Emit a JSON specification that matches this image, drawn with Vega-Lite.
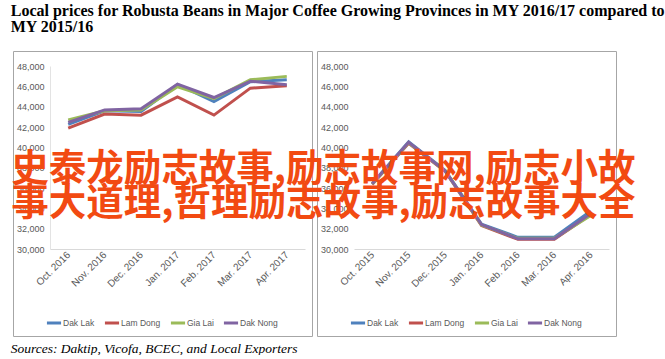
{
  "$schema": "https://vega.github.io/schema/vega-lite/v6.json",
  "background": "white",
  "padding": {"left": 10, "top": 2, "right": 0, "bottom": 0},
  "datasets": {
    "y2017": [
      {"month": "Oct. 2016", "province": "Dak Lak", "price": 42250},
      {"month": "Oct. 2016", "province": "Lam Dong", "price": 41880},
      {"month": "Oct. 2016", "province": "Gia Lai", "price": 42700},
      {"month": "Oct. 2016", "province": "Dak Nong", "price": 42450},
      {"month": "Nov. 2016", "province": "Dak Lak", "price": 43600},
      {"month": "Nov. 2016", "province": "Lam Dong", "price": 43280},
      {"month": "Nov. 2016", "province": "Gia Lai", "price": 43600},
      {"month": "Nov. 2016", "province": "Dak Nong", "price": 43680},
      {"month": "Dec. 2016", "province": "Dak Lak", "price": 43520},
      {"month": "Dec. 2016", "province": "Lam Dong", "price": 43160},
      {"month": "Dec. 2016", "province": "Gia Lai", "price": 43660},
      {"month": "Dec. 2016", "province": "Dak Nong", "price": 43800},
      {"month": "Jan. 2017", "province": "Dak Lak", "price": 46180},
      {"month": "Jan. 2017", "province": "Lam Dong", "price": 44950},
      {"month": "Jan. 2017", "province": "Gia Lai", "price": 45950},
      {"month": "Jan. 2017", "province": "Dak Nong", "price": 46220},
      {"month": "Feb. 2017", "province": "Dak Lak", "price": 44500},
      {"month": "Feb. 2017", "province": "Lam Dong", "price": 43170},
      {"month": "Feb. 2017", "province": "Gia Lai", "price": 44800},
      {"month": "Feb. 2017", "province": "Dak Nong", "price": 44900},
      {"month": "Mar. 2017", "province": "Dak Lak", "price": 46450},
      {"month": "Mar. 2017", "province": "Lam Dong", "price": 45820},
      {"month": "Mar. 2017", "province": "Gia Lai", "price": 46640},
      {"month": "Mar. 2017", "province": "Dak Nong", "price": 46500},
      {"month": "Apr. 2017", "province": "Dak Lak", "price": 46640},
      {"month": "Apr. 2017", "province": "Lam Dong", "price": 46050},
      {"month": "Apr. 2017", "province": "Gia Lai", "price": 46980},
      {"month": "Apr. 2017", "province": "Dak Nong", "price": 46160}
    ],
    "y2016": [
      {"month": "Oct. 2015", "province": "Dak Lak", "price": 36450},
      {"month": "Oct. 2015", "province": "Lam Dong", "price": 36350},
      {"month": "Oct. 2015", "province": "Gia Lai", "price": 36400},
      {"month": "Oct. 2015", "province": "Dak Nong", "price": 36420},
      {"month": "Nov. 2015", "province": "Dak Lak", "price": 40550},
      {"month": "Nov. 2015", "province": "Lam Dong", "price": 40400},
      {"month": "Nov. 2015", "province": "Gia Lai", "price": 40450},
      {"month": "Nov. 2015", "province": "Dak Nong", "price": 40500},
      {"month": "Dec. 2015", "province": "Dak Lak", "price": 37750},
      {"month": "Dec. 2015", "province": "Lam Dong", "price": 37650},
      {"month": "Dec. 2015", "province": "Gia Lai", "price": 37700},
      {"month": "Dec. 2015", "province": "Dak Nong", "price": 37700},
      {"month": "Jan. 2016", "province": "Dak Lak", "price": 32450},
      {"month": "Jan. 2016", "province": "Lam Dong", "price": 32300},
      {"month": "Jan. 2016", "province": "Gia Lai", "price": 32350},
      {"month": "Jan. 2016", "province": "Dak Nong", "price": 32400},
      {"month": "Feb. 2016", "province": "Dak Lak", "price": 31150},
      {"month": "Feb. 2016", "province": "Lam Dong", "price": 30950},
      {"month": "Feb. 2016", "province": "Gia Lai", "price": 31050},
      {"month": "Feb. 2016", "province": "Dak Nong", "price": 31000},
      {"month": "Mar. 2016", "province": "Dak Lak", "price": 31150},
      {"month": "Mar. 2016", "province": "Lam Dong", "price": 30950},
      {"month": "Mar. 2016", "province": "Gia Lai", "price": 31050},
      {"month": "Mar. 2016", "province": "Dak Nong", "price": 31000},
      {"month": "Apr. 2016", "province": "Dak Lak", "price": 33750},
      {"month": "Apr. 2016", "province": "Lam Dong", "price": 33400},
      {"month": "Apr. 2016", "province": "Gia Lai", "price": 33300},
      {"month": "Apr. 2016", "province": "Dak Nong", "price": 33500}
    ],
    "watermark": [
      {"note": "史泰龙励志故事,励志故事网,励志小故\n事大道理,哲理励志故事,励志故事大全"}
    ]
  },
  "config": {
    "view": {"stroke": "#a6a6a6", "strokeWidth": 1},
    "axis": {
      "labelFont": "Liberation Sans",
      "labelFontSize": 9,
      "labelColor": "#595959",
      "labelOverlap": false,
      "grid": false,
      "ticks": false,
      "title": null
    },
    "legend": {
      "labelFont": "Liberation Sans",
      "labelFontSize": 8.5,
      "labelColor": "#595959",
      "padding": 0
    }
  },
  "title": {
    "text": ["Local prices for Robusta Beans in Major Coffee Growing Provinces in MY 2016/17 compared to", "MY 2015/16"],
    "anchor": "start",
    "font": "Liberation Serif",
    "fontSize": 16,
    "fontWeight": "bold",
    "color": "black",
    "lineHeight": 16,
    "offset": 16
  },
  "vconcat": [
    {
      "title": {
        "text": "Sources: Daktip, Vicofa, BCEC, and Local Exporters",
        "orient": "bottom",
        "anchor": "start",
        "font": "Liberation Serif",
        "fontStyle": "italic",
        "fontWeight": "normal",
        "fontSize": 13.5,
        "color": "black",
        "offset": 5
      },
      "spacing": 5,
      "bounds": "flush",
      "resolve": {"legend": {"color": "independent"}},
      "hconcat": [
        {
          "width": 299,
          "height": 285,
          "data": {"name": "y2017"},
          "mark": {"type": "line", "strokeWidth": 3},
          "encoding": {
            "x": {
              "field": "month", "type": "ordinal",
              "sort": ["Oct. 2016", "Nov. 2016", "Dec. 2016", "Jan. 2017", "Feb. 2017", "Mar. 2017", "Apr. 2017"],
              "scale": {"type": "point", "padding": 0.5, "range": [37, 292]},
              "axis": {"offset": -87, "labelAngle": -45, "labelAlign": "right", "labelBaseline": "middle", "labelPadding": 4, "labelFontSize": 10, "domainColor": "#d9d9d9"}
            },
            "y": {
              "field": "price", "type": "quantitative",
              "scale": {"domain": [30000, 48000], "range": [198, 15], "nice": false, "zero": false},
              "axis": {"offset": -37, "values": [30000, 32000, 34000, 36000, 38000, 40000, 42000, 44000, 46000, 48000], "format": ",.0f", "labelPadding": 6, "domainColor": "#e3e3e3"}
            },
            "color": {
              "field": "province", "type": "nominal",
              "scale": {"domain": ["Dak Lak", "Lam Dong", "Gia Lai", "Dak Nong"], "range": ["#4F81BD", "#C0504D", "#9BBB59", "#8064A2"]},
              "legend": {"orient": "none", "legendX": 32, "legendY": 263, "direction": "horizontal", "title": null, "symbolType": "stroke", "symbolStrokeWidth": 3, "symbolSize": 200, "columnPadding": 3, "labelOffset": 0, "gridAlign": "none"}
            }
          }
        },
        {
          "width": 299,
          "height": 285,
          "resolve": {"axis": {"x": "independent", "y": "independent"}},
          "layer": [
            {
              "data": {"name": "y2016"},
              "mark": {"type": "line", "strokeWidth": 3},
              "encoding": {
                "x": {
                  "field": "month", "type": "ordinal",
                  "sort": ["Oct. 2015", "Nov. 2015", "Dec. 2015", "Jan. 2016", "Feb. 2016", "Mar. 2016", "Apr. 2016"],
                  "scale": {"type": "point", "padding": 0.5, "range": [37, 292]},
                  "axis": {"offset": -87, "labelAngle": -45, "labelAlign": "right", "labelBaseline": "middle", "labelPadding": 4, "labelFontSize": 10, "labelOverlap": false, "domainColor": "#d9d9d9"}
                },
                "y": {
                  "field": "price", "type": "quantitative",
                  "scale": {"domain": [30000, 48000], "range": [198, 15], "nice": false, "zero": false},
                  "axis": {"offset": -37, "values": [30000, 32000, 34000, 36000, 38000, 40000, 42000, 44000, 46000, 48000], "format": ",.0f", "labelPadding": 6, "labelOverlap": false, "domain": false}
                },
                "color": {
                  "field": "province", "type": "nominal",
                  "scale": {"domain": ["Dak Lak", "Lam Dong", "Gia Lai", "Dak Nong"], "range": ["#4F81BD", "#C0504D", "#9BBB59", "#8064A2"]},
                  "legend": {"orient": "none", "legendX": 32, "legendY": 263, "direction": "horizontal", "title": null, "symbolType": "stroke", "symbolStrokeWidth": 3, "symbolSize": 200, "columnPadding": 3, "labelOffset": 0, "gridAlign": "none"}
                }
              }
            },
            {
              "data": {"name": "watermark"},
              "mark": {"type": "text", "align": "left", "baseline": "alphabetic", "font": "Noto Sans CJK SC", "fontSize": 37.5, "fontWeight": "bold", "color": "#F24A12", "lineBreak": "\n", "lineHeight": 34, "dx": -361, "dy": 3},
              "encoding": {
                "x": {"datum": "Oct. 2015", "axis": null},
                "y": {"datum": 37000, "axis": null},
                "text": {"field": "note"}
              }
            }
          ]
        }
      ]
    }
  ]
}
